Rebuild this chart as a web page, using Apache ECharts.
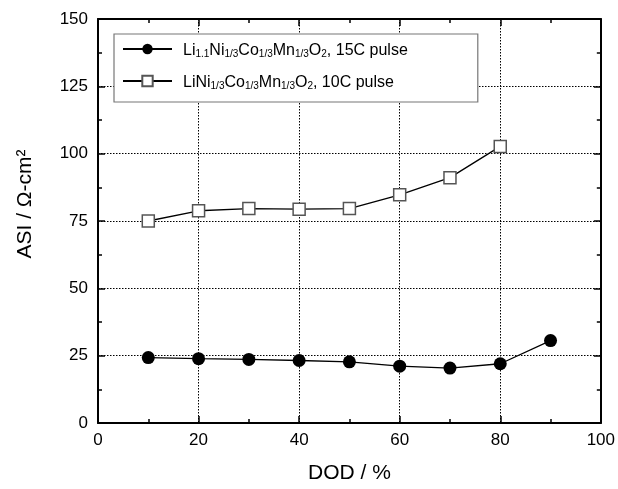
<!DOCTYPE html>
<html>
<head>
<meta charset="utf-8">
<script src="https://cdn.jsdelivr.net/npm/echarts@6/dist/echarts.min.js"></script>
<style>
html,body{margin:0;padding:0;background:#fff;}
#chart{width:618px;height:489px;}
</style>
</head>
<body>
<div id="chart"></div>
<script>
// DOD (%) values
var dodA = [10, 20, 30, 40, 50, 60, 70, 80, 90];
var asiA = [24.3, 23.9, 23.6, 23.2, 22.7, 21.1, 20.4, 22.0, 30.6];
var dodB = [10, 20, 30, 40, 50, 60, 70, 80];
var asiB = [75.0, 78.8, 79.6, 79.4, 79.6, 84.7, 91.1, 102.7];
var nameA = 'Li1.1Ni1/3Co1/3Mn1/3O2, 15C pulse';
var nameB = 'LiNi1/3Co1/3Mn1/3O2, 10C pulse';
var richNames = {};
richNames[nameA] = '{p|}{a|Li}{s|1.1}{a|Ni}{s|1/3}{a|Co}{s|1/3}{a|Mn}{s|1/3}{a|O}{s|2}{a|, 15C pulse}';
richNames[nameB] = '{p|}{a|LiNi}{s|1/3}{a|Co}{s|1/3}{a|Mn}{s|1/3}{a|O}{s|2}{a|, 10C pulse}';
var xTicks = {min: 0, max: 100, interval: 20};
var yTicks = {min: 0, max: 150, interval: 25};

var FONT = '"Liberation Sans", Arial, sans-serif';
function pair(arrX, arrY){ return arrX.map(function(x,i){return [x, arrY[i]];}); }

var chart = echarts.init(document.getElementById('chart'), null, {renderer:'canvas'});
function axisLine(){ return {show:true, onZero:false, lineStyle:{color:'#000', width:2}}; }
function tick(){ return {show:true, inside:true, length:7, lineStyle:{color:'#000', width:1.5}}; }
function minor(){ return {show:true, splitNumber:2, length:4, lineStyle:{color:'#000', width:1.5}}; }
function grid(){ return {show:true, lineStyle:{color:'#000', width:1, type:[1.5,1.5]}}; }

chart.setOption({
  animation:false,
  backgroundColor:'#fff',
  grid:{left:98, right:10, top:19, bottom:58, containLabel:false},
  legend:{
    orient:'vertical', left:114, top:34,
    backgroundColor:'#fff', borderColor:'#777', borderWidth:1.2,
    padding:[8,70,11,8], itemGap:15, itemWidth:49, itemHeight:13,
    data:[nameA, nameB],
    formatter:function(n){ return richNames[n]; },
    textStyle:{
      fontFamily:FONT, color:'#000',
      rich:{
        p:{width:6, lineHeight:20},
        a:{fontSize:16, fontFamily:FONT, color:'#000', lineHeight:20, verticalAlign:'bottom'},
        s:{fontSize:10, fontFamily:FONT, color:'#000', lineHeight:20, verticalAlign:'bottom', padding:[7,0,0,0]}
      }
    }
  },
  xAxis:[
    {type:'value', position:'bottom', min:xTicks.min, max:xTicks.max, interval:xTicks.interval,
     name:'DOD / %', nameLocation:'middle', nameGap:40,
     nameTextStyle:{fontFamily:FONT, fontSize:21, color:'#000'},
     axisLine:axisLine(), axisTick:tick(), minorTick:minor(), splitLine:grid(),
     axisLabel:{fontFamily:FONT, fontSize:17, color:'#000', margin:9}},
    {type:'value', position:'top', min:xTicks.min, max:xTicks.max, interval:xTicks.interval,
     axisLine:axisLine(), axisTick:tick(), minorTick:minor(), splitLine:{show:false},
     axisLabel:{show:false}}
  ],
  yAxis:[
    {type:'value', position:'left', min:yTicks.min, max:yTicks.max, interval:yTicks.interval,
     name:'ASI / Ω-cm²', nameLocation:'middle', nameGap:62, nameRotate:90,
     nameTextStyle:{fontFamily:FONT, fontSize:21, color:'#000', padding:[0,0,0,34]},
     axisLine:axisLine(), axisTick:tick(), minorTick:minor(), splitLine:grid(),
     axisLabel:{fontFamily:FONT, fontSize:17, color:'#000', margin:10}},
    {type:'value', position:'right', min:yTicks.min, max:yTicks.max, interval:yTicks.interval,
     axisLine:axisLine(), axisTick:tick(), minorTick:minor(), splitLine:{show:false},
     axisLabel:{show:false}}
  ],
  series:[
    {name:nameA, type:'line', xAxisIndex:0, yAxisIndex:0, data:pair(dodA, asiA),
     symbol:'circle', symbolSize:13,
     lineStyle:{color:'#000', width:1.3}, itemStyle:{color:'#000', borderColor:'#000', borderWidth:0}},
    {name:nameB, type:'line', xAxisIndex:0, yAxisIndex:0, data:pair(dodB, asiB),
     symbol:'rect', symbolSize:12,
     lineStyle:{color:'#000', width:1.3}, itemStyle:{color:'#fff', borderColor:'#555', borderWidth:1.5}}
  ]
});
</script>
</body>
</html>
